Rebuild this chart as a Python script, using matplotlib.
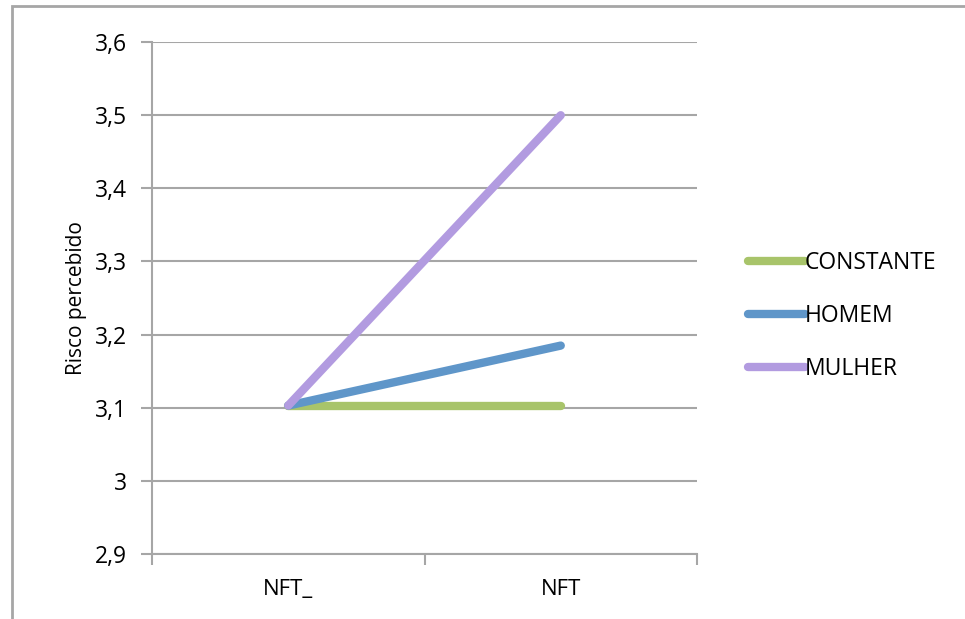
import matplotlib.pyplot as plt
from matplotlib.patches import Rectangle

# Risco percebido por grupo
categorias = ["NFT_", "NFT"]
constante = [3.103, 3.103]
homem = [3.103, 3.185]
mulher = [3.103, 3.50]
series = ["CONSTANTE", "HOMEM", "MULHER"]
y_ticks = [2.9, 3.0, 3.1, 3.2, 3.3, 3.4, 3.5, 3.6]
y_labels = ["2,9", "3", "3,1", "3,2", "3,3", "3,4", "3,5", "3,6"]

cores = ["#A8C46A", "#5F96C9", "#B29BE0"]
cinza = "#A6A6A6"

plt.rcParams['font.family'] = ['Open Sans', 'DejaVu Sans']

fig = plt.figure(figsize=(9.65, 6.19), dpi=100)
ax = fig.add_axes([0.1575, 0.105, 0.5648, 0.827])

# moldura externa do gráfico
fig.patches.append(Rectangle((12 / 965, -0.05), 1.2, 1 - 6 / 619 + 0.05,
                             transform=fig.transFigure, fill=False,
                             edgecolor=cinza, linewidth=2))

x = range(len(categorias))
for valores, nome, cor in zip([constante, homem, mulher], series, cores):
    ax.plot(x, valores, color=cor, linewidth=6, solid_capstyle='round',
            label=nome)

ax.set_xlim(-0.5, 1.5)
ax.set_ylim(2.9, 3.6)
ax.set_yticks(y_ticks)
ax.set_yticklabels(y_labels)
ax.set_xticks(list(x))
ax.set_xticklabels(categorias)
ax.set_xticks([-0.5, 0.5, 1.5], minor=True)
ax.tick_params(axis='x', which='major', length=0, pad=18, labelsize=16)
ax.tick_params(axis='x', which='minor', length=8, width=1.5, color=cinza,
               direction='out')
ax.tick_params(axis='y', length=8, width=1.5, color=cinza, labelsize=16.5,
               pad=10)
ax.grid(axis='y', color=cinza, linewidth=1.5)
ax.set_axisbelow(True)
for lado in ['top', 'right']:
    ax.spines[lado].set_visible(False)
for lado in ['left', 'bottom']:
    ax.spines[lado].set_color(cinza)
    ax.spines[lado].set_linewidth(1.5)

ax.set_ylabel("Risco percebido", fontsize=15, labelpad=6)

ax.legend(loc='center left', bbox_to_anchor=(1.055, 0.465), frameon=False,
          fontsize=16.5, handlelength=2.5, handletextpad=0.0,
          labelspacing=1.25)

fig.savefig("out.png", dpi=100)
